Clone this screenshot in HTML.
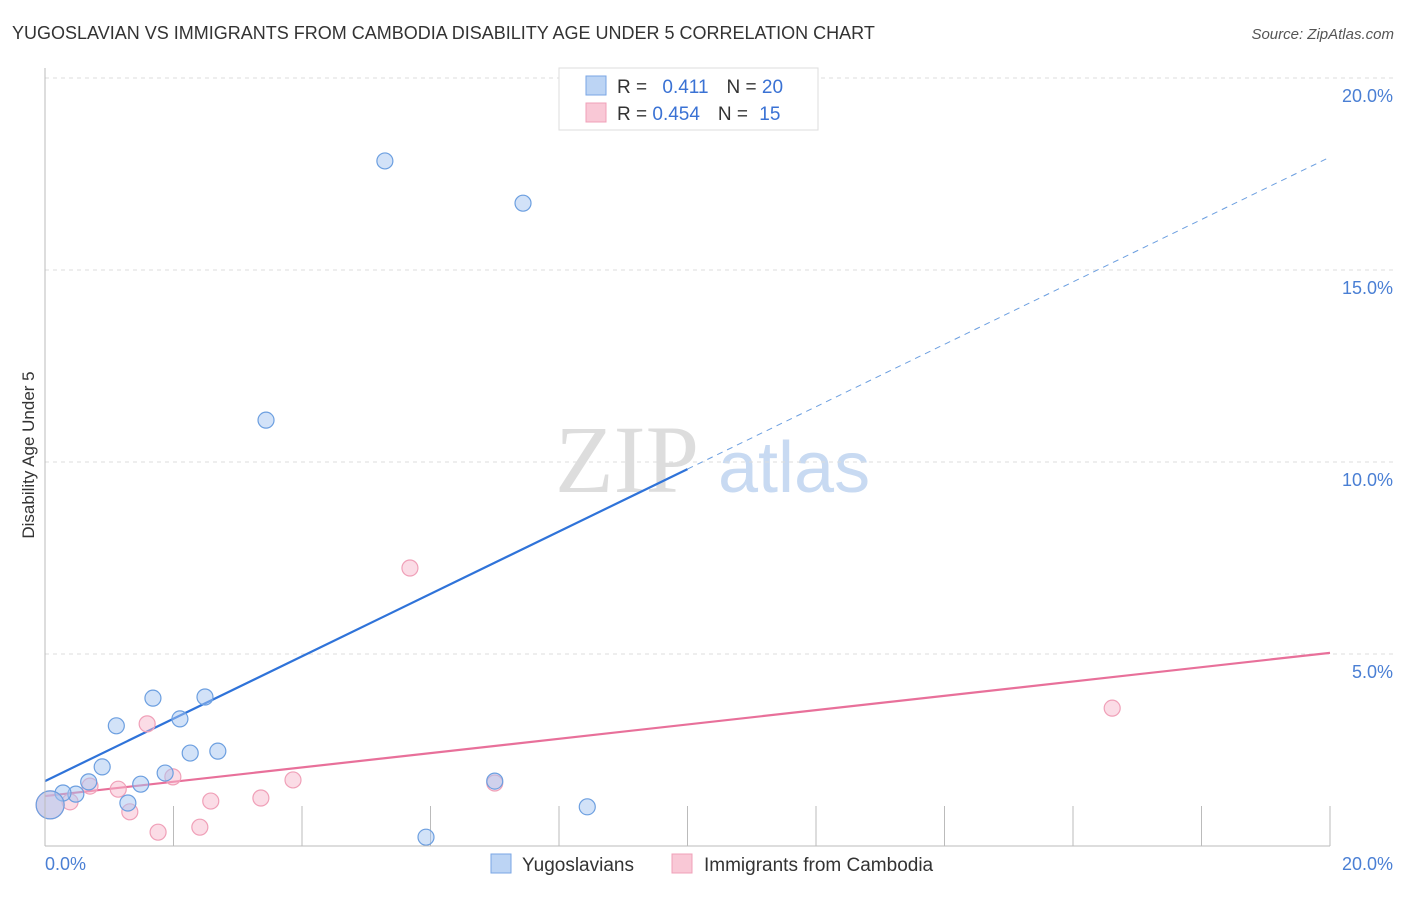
<!DOCTYPE html>
<html><head><meta charset="utf-8"><style>
body{margin:0;background:#fff;font-family:"Liberation Sans",sans-serif}
</style></head><body>
<svg width="1406" height="892" xmlns="http://www.w3.org/2000/svg" id="chart">
<text x="12" y="39" font-size="18" fill="#333">YUGOSLAVIAN VS IMMIGRANTS FROM CAMBODIA DISABILITY AGE UNDER 5 CORRELATION CHART</text>
<text x="1394" y="39" font-size="15" fill="#555" font-style="italic" text-anchor="end">Source: ZipAtlas.com</text>
<text x="34" y="455" font-size="17" fill="#333" text-anchor="middle" transform="rotate(-90 34 455)">Disability Age Under 5</text>
<text x="555" y="492" font-size="96" fill="#ddd" font-family="Liberation Serif,serif">ZIP</text>
<text x="718" y="492" font-size="72" fill="#c8daf2">atlas</text>
<g id="grid"></g><g id="lines"></g><g id="pts"></g>
<line x1="45" y1="68" x2="45" y2="846" stroke="#bbb"/>
<line x1="45" y1="846" x2="1330" y2="846" stroke="#bbb"/>
<text x="45" y="870" font-size="18" fill="#4a7fd4">0.0%</text>
<text x="1393" y="870" font-size="18" fill="#4a7fd4" text-anchor="end">20.0%</text>
<g>
<rect x="559" y="68" width="259" height="62" fill="#fff" stroke="#ddd"/>
<rect x="586" y="76" width="20" height="19" fill="#bcd4f4" stroke="#7aa6e4"/>
<rect x="586" y="103" width="20" height="19" fill="#f9c8d6" stroke="#f0a0b8"/>
<text x="617" y="93" font-size="19" fill="#333">R = <tspan fill="#3a72d4" dx="10">0.411</tspan><tspan dx="18" fill="#333">N = </tspan><tspan fill="#3a72d4">20</tspan></text>
<text x="617" y="120" font-size="19" fill="#333">R = <tspan fill="#3a72d4">0.454</tspan><tspan dx="18" fill="#333">N = </tspan><tspan fill="#3a72d4" dx="6">15</tspan></text>
</g>
<g>
<rect x="491" y="854" width="20" height="19" fill="#bcd4f4" stroke="#7aa6e4"/>
<text x="522" y="871" font-size="19" fill="#333">Yugoslavians</text>
<rect x="672" y="854" width="20" height="19" fill="#f9c8d6" stroke="#f0a0b8"/>
<text x="704" y="871" font-size="19" fill="#333">Immigrants from Cambodia</text>
</g>
</svg>
<script>
const yTicks=[5,10,15,20];
const yTickLabels=["5.0%","10.0%","15.0%","20.0%"];
const xTicks=[2,4,6,8,10,12,14,16,18,20];
const blueX=[5.29,7.44,3.44,1.68,2.49,2.10,1.11,2.26,2.69,0.89,1.87,1.49,0.68,1.29,0.48,0.28,8.44,5.93,7.00,0.08];
const blueY=[17.84,16.74,11.09,3.85,3.88,3.31,3.13,2.42,2.47,2.06,1.90,1.61,1.67,1.12,1.35,1.38,1.02,0.23,1.69,1.07];
const pinkX=[5.68,16.61,1.59,1.99,1.14,0.70,3.86,3.36,2.58,1.32,2.41,1.76,7.00,0.39,0.08];
const pinkY=[7.24,3.59,3.18,1.80,1.48,1.56,1.72,1.25,1.17,0.89,0.49,0.36,1.64,1.15,1.07];
const blueTrend=[1.69,17.94];
const pinkTrend=[1.30,5.03];
const NS="http://www.w3.org/2000/svg";
const sx=v=>45+v*64.25, sy=v=>846-v*38.4;
function mk(tag,at,parent){const e=document.createElementNS(NS,tag);for(const k in at)e.setAttribute(k,at[k]);document.getElementById(parent).appendChild(e);return e;}
yTicks.forEach((t,i)=>{
 const l=mk('line',{x1:45,x2:1395,y1:sy(t),y2:sy(t),stroke:'#ddd','stroke-dasharray':'4 4'},'grid');
 
 
 const tx=mk('text',{x:1393,y:sy(t)+24,'font-size':18,fill:'#4a7fd4','text-anchor':'end'},'grid');
 tx.textContent=yTickLabels[i];
 
 
});
xTicks.forEach(t=>{
 const l=mk('line',{x1:sx(t),x2:sx(t),y1:806,y2:846,stroke:'#bbb'},'grid');
 
 
});
function pts(X,Y,fill,stroke,name){X.forEach((x,i)=>{
 const big=i===X.length-1;
 const c=mk('circle',{cx:sx(x),cy:sy(Y[i]),r:big?14:8,fill:fill,stroke:stroke,'stroke-width':1.2},'pts');
 
 
});}
pts(pinkX,pinkY,'rgba(248,185,205,0.5)','#f0a0b8','cambodia-point');
pts(blueX,blueY,'rgba(165,198,242,0.5)','#6c9fe0','yugoslavian-point');
const bm=blueTrend[0]+(blueTrend[1]-blueTrend[0])/2;
let l1=mk('line',{x1:sx(0),y1:sy(blueTrend[0]),x2:sx(10),y2:sy(bm),stroke:'#2f73d9','stroke-width':2.2},'lines');


let l2=mk('line',{x1:sx(10),y1:sy(bm),x2:sx(20),y2:sy(blueTrend[1]),stroke:'#6c9fe0','stroke-width':1,'stroke-dasharray':'6 5'},'lines');


let l3=mk('line',{x1:sx(0),y1:sy(pinkTrend[0]),x2:sx(20),y2:sy(pinkTrend[1]),stroke:'#e8709a','stroke-width':2.2},'lines');


</script>
</body></html>
